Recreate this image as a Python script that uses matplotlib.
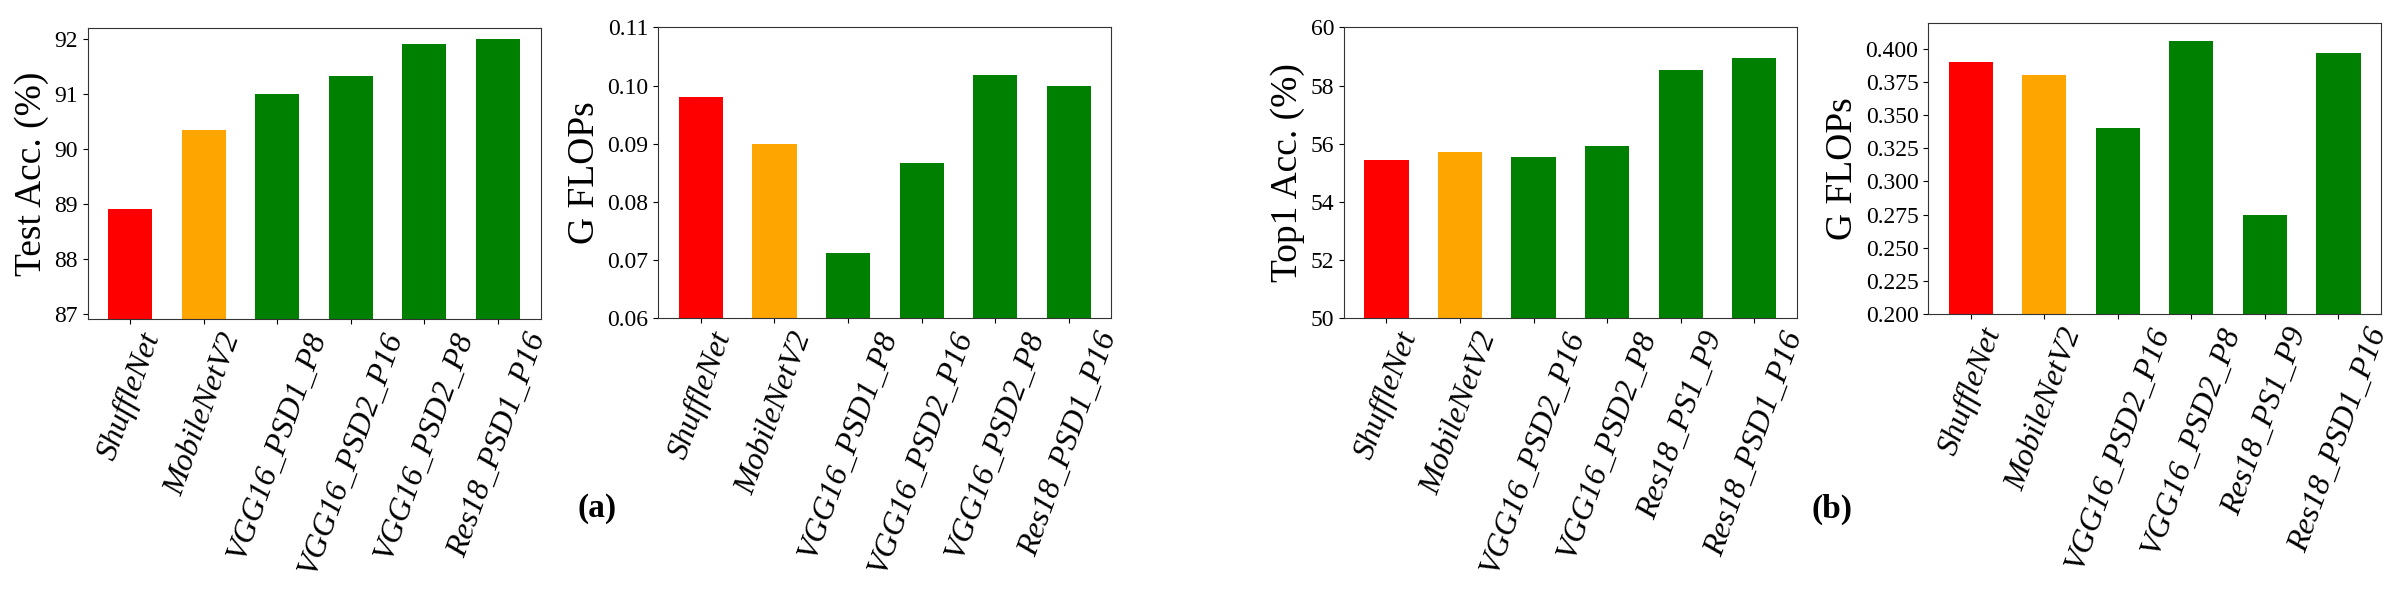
import matplotlib
matplotlib.use("Agg")
import matplotlib.pyplot as plt
from matplotlib.ticker import FormatStrFormatter, MultipleLocator

plt.rcParams['font.family'] = ['Liberation Serif', 'DejaVu Serif']

# ---- data ----
labels_a = ["ShuffleNet", "MobileNetV2", "VGG16_PSD1_P8", "VGG16_PSD2_P16",
            "VGG16_PSD2_P8", "Res18_PSD1_P16"]
acc_a = [88.91, 90.35, 91.0, 91.33, 91.91, 92.01]
flops_a = [0.0981, 0.0900, 0.0713, 0.0866, 0.1018, 0.0999]

labels_b = ["ShuffleNet", "MobileNetV2", "VGG16_PSD2_P16", "VGG16_PSD2_P8",
            "Res18_PS1_P9", "Res18_PSD1_P16"]
acc_b = [55.44, 55.73, 55.54, 55.91, 58.54, 58.96]
flops_b = [0.390, 0.380, 0.340, 0.406, 0.275, 0.397]

bar_colors = ["red", "orange", "green", "green", "green", "green"]

fig = plt.figure(figsize=(24, 6), dpi=100)

W = 453 / 2400
H = 291 / 600
positions = [
    (87.5 / 2400, (600 - 319.3) / 600),
    (658.3 / 2400, (600 - 318.3) / 600),
    (1343.8 / 2400, (600 - 318.3) / 600),
    (1928.1 / 2400, (600 - 314.3) / 600),
]

panels = [
    (labels_a, acc_a, "Test Acc. (%)", (86.91, 92.2), None, None),
    (labels_a, flops_a, "G FLOPs", (0.06, 0.11), None, None),
    (labels_b, acc_b, "Top1 Acc. (%)", (50, 60), None, None),
    (labels_b, flops_b, "G FLOPs", (0.2, 0.419), "%.3f", 0.025),
]

for (x0, y0), (labs, vals, ylab, ylim, fmt, step) in zip(positions, panels):
    ax = fig.add_axes([x0, y0, W, H])
    xs = list(range(len(labs)))
    ax.bar(xs, vals, width=0.6, color=bar_colors)
    ax.set_ylim(*ylim)
    ax.set_xticks(xs)
    ax.set_xticklabels(labs, rotation=70, ha='center', fontsize=23, style='italic')
    ax.tick_params(axis='y', labelsize=17)
    ax.set_ylabel(ylab, fontsize=27)
    if step:
        ax.yaxis.set_major_locator(MultipleLocator(step))
    if fmt:
        ax.yaxis.set_major_formatter(FormatStrFormatter(fmt))
    for sp in ax.spines.values():
        sp.set_color('#333333')

fig.text(597 / 2400, 1 - 508 / 600, "(a)", fontsize=24, fontweight='bold',
         ha='center', va='center')
fig.text(1832 / 2400, 1 - 509 / 600, "(b)", fontsize=24, fontweight='bold',
         ha='center', va='center')

fig.savefig("out.png", dpi=100)
